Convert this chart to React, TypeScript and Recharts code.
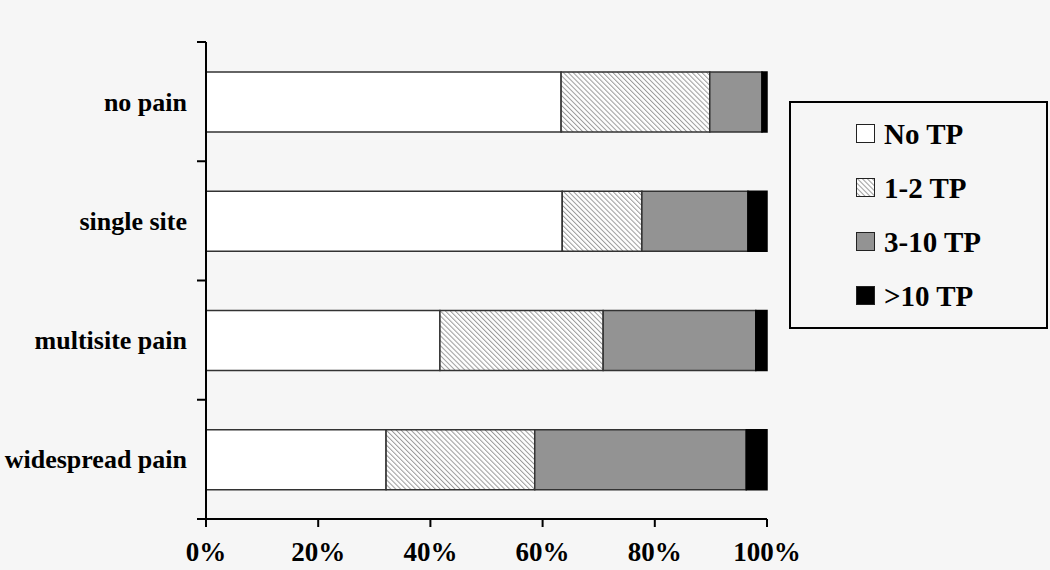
import {
  BarChart,
  Bar,
  XAxis,
  YAxis
} from "recharts"

const categories = ["no pain", "single site", "multisite pain", "widespread pain"]
const noTP = [63.3, 63.5, 41.7, 32.1]
const oneTwoTP = [26.5, 14.2, 29.1, 26.5]
const threeTenTP = [9.3, 18.9, 27.2, 37.7]
const overTenTP = [0.9, 3.4, 2.0, 3.7]
const xTicks = [0, 20, 40, 60, 80, 100]

const seriesNames = ["No TP", "1-2 TP", "3-10 TP", ">10 TP"]

const data = categories.map((c, i) => ({
  name: c,
  noTP: noTP[i],
  oneTwoTP: oneTwoTP[i],
  threeTenTP: threeTenTP[i],
  overTenTP: overTenTP[i]
}))

const W = 1050
const H = 570
const TOP = 42
const BOTTOM = 51
const LEFT = 206
const RIGHT = 283
const BAND = (H - TOP - BOTTOM) / categories.length
const FONT = "'Liberation Serif', 'Times New Roman', serif"
const BG = "#f6f6f6"

const fills = ["#ffffff", "url(#hatch)", "#939393", "#000000"]

// diagonal hatch used for the 1-2 TP series
function Hatch({ id }: { id: string }) {
  return (
    <pattern id={id} width="3.5" height="3.5" patternUnits="userSpaceOnUse" patternTransform="rotate(-45)">
      <rect width="3.5" height="3.5" fill="#ffffff" />
      <line x1="0" y1="0" x2="0" y2="3.5" stroke="#9a9a9a" strokeWidth="2" />
    </pattern>
  )
}

function CategoryTick(props: any) {
  const { y, payload, index } = props
  const ax = LEFT
  return (
    <g>
      <text
        x={ax - 19}
        y={y}
        dy={9}
        textAnchor="end"
        fontFamily={FONT}
        fontWeight="bold"
        fontSize={26}
        fill="#000"
      >
        {payload.value}
      </text>
      <line x1={ax - 9} x2={ax} y1={y - BAND / 2} y2={y - BAND / 2} stroke="#000" strokeWidth={2} />
      {index === categories.length - 1 && (
        <line x1={ax - 9} x2={ax} y1={y + BAND / 2} y2={y + BAND / 2} stroke="#000" strokeWidth={2} />
      )}
    </g>
  )
}

function LegendBox() {
  return (
    <div
      style={{
        position: "absolute",
        left: 789,
        top: 101,
        width: 255,
        height: 220,
        border: "2px solid #000",
        fontFamily: FONT,
        fontWeight: "bold",
        fontSize: 29,
        paddingTop: 4
      }}
    >
      {seriesNames.map((s, i) => (
        <div
          key={s}
          style={{ display: "flex", alignItems: "center", height: 54, paddingLeft: 65 }}
        >
          <svg width={20} height={20} style={{ marginRight: 8 }}>
            <defs>
              <Hatch id={"lh" + i} />
            </defs>
            <rect
              x={0.5}
              y={0.5}
              width={18}
              height={18}
              fill={i === 1 ? "url(#lh1)" : fills[i]}
              stroke="#222"
            />
          </svg>
          <span>{s}</span>
        </div>
      ))}
    </div>
  )
}

export default function App() {
  return (
    <div style={{ position: "absolute", left: 0, top: 0, width: W, height: H, background: BG }}>
      <BarChart
        width={W}
        height={H}
        data={data}
        layout="vertical"
        margin={{ top: TOP, right: RIGHT, bottom: 0, left: 0 }}
        barSize={60}
      >
        <defs>
          <Hatch id="hatch" />
        </defs>
        <XAxis
          type="number"
          domain={[0, 100]}
          ticks={xTicks}
          tickFormatter={(v: number) => `${v}%`}
          height={BOTTOM}
          axisLine={{ stroke: "#000", strokeWidth: 2 }}
          tickLine={{ stroke: "#000", strokeWidth: 2 }}
          tickSize={8}
          tickMargin={15}
          tick={{ fill: "#000", fontFamily: FONT, fontWeight: "bold", fontSize: 27 }}
          interval={0}
        />
        <XAxis
          xAxisId="top"
          orientation="top"
          type="number"
          domain={[0, 100]}
          height={0}
          tick={false}
          tickLine={false}
          axisLine={{ stroke: "#000", strokeWidth: 2 }}
        />
        <YAxis
          type="category"
          dataKey="name"
          width={LEFT}
          axisLine={{ stroke: "#000", strokeWidth: 2 }}
          tickLine={false}
          tick={<CategoryTick />}
          interval={0}
        />
        <YAxis
          yAxisId="right"
          orientation="right"
          type="category"
          dataKey="name"
          width={0}
          tick={false}
          tickLine={false}
          axisLine={{ stroke: "#333", strokeWidth: 1 }}
        />
        <Bar dataKey="noTP" stackId="a" fill={fills[0]} stroke="#333" strokeWidth={1.5} isAnimationActive={false} />
        <Bar dataKey="oneTwoTP" stackId="a" fill={fills[1]} stroke="#333" strokeWidth={1.5} isAnimationActive={false} />
        <Bar dataKey="threeTenTP" stackId="a" fill={fills[2]} stroke="#333" strokeWidth={1.5} isAnimationActive={false} />
        <Bar dataKey="overTenTP" stackId="a" fill={fills[3]} stroke="#000" strokeWidth={1.5} isAnimationActive={false} />
      </BarChart>
      <LegendBox />
    </div>
  )
}
